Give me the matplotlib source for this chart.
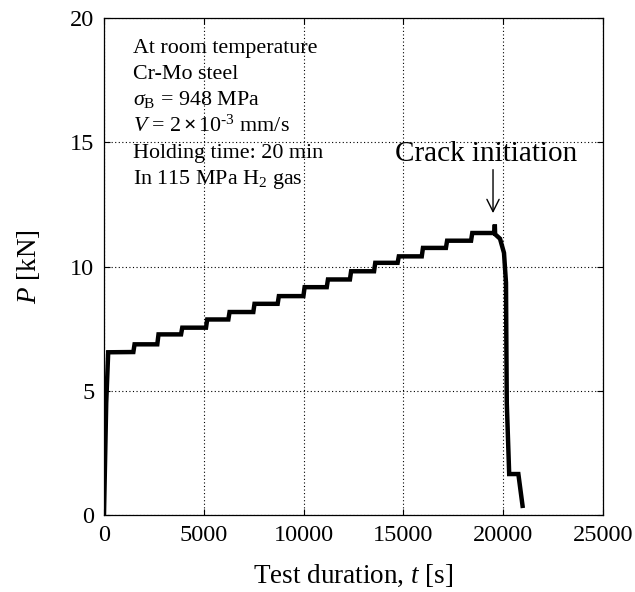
import matplotlib
matplotlib.use("Agg")
import matplotlib.pyplot as plt
import numpy as np

plt.rcParams['font.family'] = ['Liberation Serif', 'DejaVu Serif']
plt.rcParams['mathtext.fontset'] = 'custom'
plt.rcParams['mathtext.rm'] = 'Liberation Serif'
plt.rcParams['mathtext.it'] = 'Liberation Serif:italic'
plt.rcParams['mathtext.bf'] = 'Liberation Serif:bold'

# ---- data ----
# initial loading ramp
ramp_t = [0, 110, 210]
ramp_p = [0.05, 4.5, 6.55]
# start times of each load step (holding time 20 min)
step_t = [1470, 2670, 3860, 5110, 6230, 7480, 8700, 9990, 11160,
          12320, 13530, 14710, 15920, 17130, 18390]
# plateau loads (first plateau and after each step)
levels = [6.56, 6.87, 7.27, 7.54, 7.87, 8.17, 8.5, 8.81, 9.17, 9.48,
          9.81, 10.15, 10.41, 10.75, 11.04, 11.35]
riser = 60
# final part: crack initiation and load drop
end_t = [19560, 19580, 19595, 19840, 20040, 20140, 20160, 20180, 20300, 20760, 20970]
end_p = [11.35, 11.69, 11.30, 11.12, 10.55, 9.35, 6.7, 4.5, 1.65, 1.65, 0.37]

xticks = [0, 5000, 10000, 15000, 20000, 25000]
yticks = [0, 5, 10, 15, 20]

info_lines = [
    "At room temperature",
    "Cr-Mo steel",
    r"$\sigma_{\mathrm{B}}$ = 948 MPa",
    r"$V$ = 2$\,\mathbf{\times}\,$10$^{\text{-3}}$ mm/s",
    "Holding time: 20 min",
    r"In 115 MPa H$_2$ gas",
]

# build polyline
t = list(ramp_t)
p = list(ramp_p)
for i, ts in enumerate(step_t):
    t += [ts, ts + riser]
    p += [levels[i], levels[i + 1]]
t += end_t
p += end_p

fig = plt.figure(figsize=(6.35, 5.92), dpi=100)
ax = fig.add_axes([0.1638, 0.130, 0.7858, 0.8395])

ax.plot(t, p, color='black', lw=3.2, solid_joinstyle='miter', zorder=3)

ax.set_xlim(0, 25000)
ax.set_ylim(0, 20)
ax.set_xticks(xticks)
ax.set_yticks(yticks)
ax.grid(True, color='black', linestyle=(0, (1, 2.2)), linewidth=0.8)
ax.tick_params(direction='in', length=4, width=0.8, top=True, right=True,
               labelsize=17.5, pad=7)
for s in ax.spines.values():
    s.set_linewidth(0.9)

ax.set_xlabel(r"Test duration, $t$ [s]", fontsize=19.5, labelpad=12)
ax.set_ylabel(r"$P$ [kN]", fontsize=19.5, labelpad=20)

baselines = [18.6, 17.53, 16.5, 15.42, 14.35, 13.32]
for s, yb in zip(info_lines, baselines):
    ax.text(1450, yb, s, fontsize=15.8, ha='left', va='baseline')

ax.text(14580, 14.26, "Crack initiation", fontsize=21, ha='left', va='baseline')
ax.annotate("", xy=(19490, 12.15), xytext=(19490, 13.9),
            arrowprops=dict(arrowstyle='->', color='black', lw=1.0,
                            mutation_scale=22, shrinkA=0, shrinkB=0))

fig.savefig("out.png", dpi=100)
